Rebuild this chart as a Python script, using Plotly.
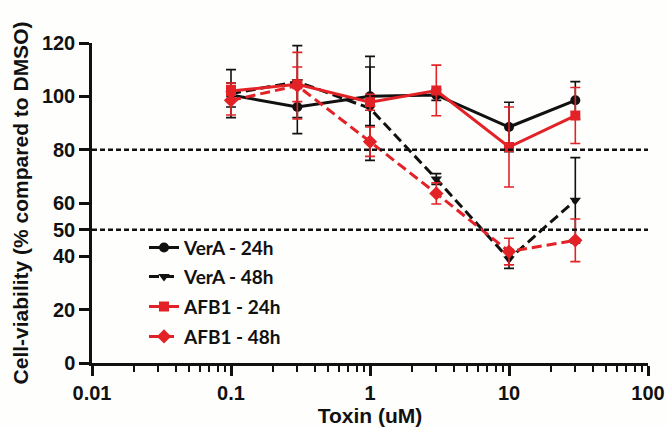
import plotly.graph_objects as go

# Data
conc = [0.1, 0.3, 1, 3, 10, 30]
vera_24 = [100.5, 96, 100, 100.5, 88.5, 98.5]
vera_24_err = [4.5, 10, 11, 2, 9.3, 7]
vera_48 = [101, 105.5, 95.5, 69, 39, 61]
vera_48_err = [9, 13.5, 19.5, 2, 3.5, 16]
afb1_24 = [102, 104.5, 97.8, 102.2, 81, 92.8]
afb1_24_err = [3, 6.5, 3, 9.5, 15, 10.5]
afb1_48 = [98.5, 104, 83, 63.6, 41.8, 46]
afb1_48_err = [5.5, 12.5, 5.5, 4, 5, 8]
names = ["VerA - 24h", "VerA - 48h", "AFB1 - 24h", "AFB1 - 48h"]
thresholds = [80, 50]
y_ticks = [0, 20, 40, 50, 60, 80, 100, 120]
x_ticks = [0.01, 0.1, 1, 10, 100]
x_ticklabels = ["0.01", "0.1", "1", "10", "100"]

BLACK = "#111111"
RED = "#E32227"

series = [
    (vera_24, vera_24_err, names[0], BLACK, "solid", "circle", 10),
    (vera_48, vera_48_err, names[1], BLACK, "10px,5px", "triangle-down", 10),
    (afb1_24, afb1_24_err, names[2], RED, "solid", "square", 10),
    (afb1_48, afb1_48_err, names[3], RED, "10px,5px", "diamond", 11),
]

legend_ids = ["legend", "legend2", "legend3", "legend4"]
legend_rows_px = [248, 277, 307, 337]  # vertical centres of legend entries

fig = go.Figure()
for i, (vals, errs, name, color, dash, sym, msize) in enumerate(series):
    fig.add_trace(go.Scatter(
        x=conc, y=vals, name=name, mode="lines+markers",
        legend=legend_ids[i],
        line=dict(color=color, width=3, dash=dash),
        marker=dict(symbol=sym, size=msize, color=color),
        error_y=dict(type="data", array=errs, visible=True,
                     color=color, thickness=1.6, width=5),
    ))

for t in thresholds:
    fig.add_hline(y=t, line=dict(color=BLACK, width=2.5, dash="5px,3px"))

tickfont = dict(family="Liberation Sans", size=20, color=BLACK, weight="bold")
titlefont = dict(family="Liberation Sans", size=21, color=BLACK, weight="bold")

PLOT_TOP, PLOT_BOTTOM = 43, 363.5
legend_layout = {}
for lid, ypx in zip(legend_ids, legend_rows_px):
    legend_layout[lid] = dict(
        x=(144 - 92) / 556, y=(PLOT_BOTTOM - ypx) / (PLOT_BOTTOM - PLOT_TOP),
        xanchor="left", yanchor="middle",
        bgcolor="rgba(0,0,0,0)",
        font=dict(family="Lato", size=19, color=BLACK, weight="bold"),
        itemwidth=30,
    )

fig.update_layout(
    width=667, height=427,
    margin=dict(l=92, r=19, t=43, b=63.5, autoexpand=False),
    paper_bgcolor="#FEFEFC", plot_bgcolor="#FEFEFC",
    showlegend=True,
    **legend_layout,
    xaxis=dict(
        type="log", range=[-2, 2],
        tickvals=x_ticks, ticktext=x_ticklabels,
        ticks="outside", ticklen=10, tickwidth=2.5, tickcolor=BLACK,
        minor=dict(ticks="outside", ticklen=6, tickwidth=2, tickcolor=BLACK, dtick="D1", showgrid=False),
        showline=True, linecolor=BLACK, linewidth=2.5,
        showgrid=False, zeroline=False,
        tickfont=tickfont,
        title=dict(text="Toxin (uM)", font=titlefont, standoff=6),
        automargin=False,
    ),
    yaxis=dict(
        range=[0, 120],
        tickvals=y_ticks,
        ticks="outside", ticklen=10, tickwidth=2.5, tickcolor=BLACK,
        showline=True, linecolor=BLACK, linewidth=2.5,
        showgrid=False, zeroline=False,
        tickfont=tickfont,
        title=dict(text="Cell-viability (% compared to DMSO)", font=titlefont, standoff=8),
        automargin=False,
    ),
)

fig.write_html("out.html")
